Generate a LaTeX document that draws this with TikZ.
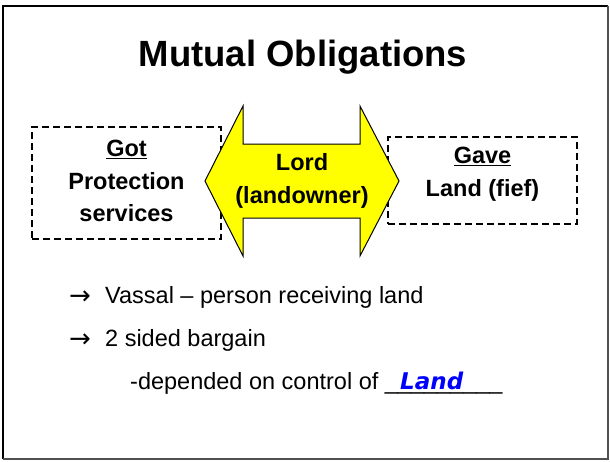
\documentclass[tikz,border=0pt]{standalone}
\usepackage{fontspec}
\setmainfont{Liberation Sans}
\newfontfamily\arrowfont{DejaVu Sans}
\newfontfamily\handfont{DejaVu Sans}
\usepackage{tikz}
\usetikzlibrary{positioning}
\definecolor{lordyellow}{RGB}{255, 255, 0}
\definecolor{handblue}{RGB}{0, 0, 255}
\definecolor{framegray}{RGB}{80, 80, 80}
\tikzstyle{dashbox} = [rectangle, draw=black, line width=1.6pt, dash pattern=on 7pt off 4pt, inner sep=0pt]
\tikzstyle{boxtext} = [align=center, font=\fontsize{23.5}{32.5}\selectfont\bfseries]
\tikzstyle{bullet} = [anchor=base west, inner sep=0pt, font=\fontsize{23.5}{28}\selectfont]
\tikzstyle{tick} = [anchor=base west, inner sep=0pt, font=\fontsize{26}{28}\selectfont\arrowfont]

\begin{document}
\begin{tikzpicture}[x=1pt, y=-1pt]
    \useasboundingbox (0,0) rectangle (610,461);

    % Slide frame
    \draw[line width=2.2pt, black] (3,459) -- (3,6) -- (608,6);
    \draw[line width=2pt, framegray] (608,6) -- (608,459) -- (3,459);

    % Title
    \node[font=\fontsize{36.5}{40}\selectfont\bfseries] (title) at (303,57) {Mutual Obligations};

    % Dashed boxes (behind the arrow)
    \node[dashbox, minimum width=189pt, minimum height=112pt] (gotbox) at (126.5,183) {};
    \node[dashbox, minimum width=189pt, minimum height=87pt] (gavebox) at (482.5,180.5) {};

    % Double arrow
    \draw[fill=lordyellow, line width=1pt, line join=miter]
        (205,181) -- (243,106) -- (243,144) -- (360,144) -- (360,106)
        -- (399,181) -- (360,256) -- (360,218) -- (243,218) -- (243,256) -- cycle;
    \node[boxtext] (lord) at (302,181) {Lord\\(landowner)};

    % Box texts
    \node[boxtext] (got) at (126.5,181) {\underline{Got}\\Protection\\services};
    \node[boxtext] (gave) at (482.5,174) {\underline{Gave}\\Land (fief)};

    % Bullets
    \node[tick] (t1) at (69,304) {→};
    \node[bullet] (b1) at (105,303) {Vassal – person receiving land};
    \node[tick] (t2) at (69,347) {→};
    \node[bullet] (b2) at (105,346) {2 sided bargain};
    \node[bullet] (b3) at (130,389) {-depended on control of \_\_\_\_\_\_\_\_\_};
    \node[anchor=base west, inner sep=0pt, text=handblue, font=\fontsize{23}{28}\selectfont\handfont\bfseries\itshape] (land) at (400,389) {Land};
\end{tikzpicture}
\end{document}
